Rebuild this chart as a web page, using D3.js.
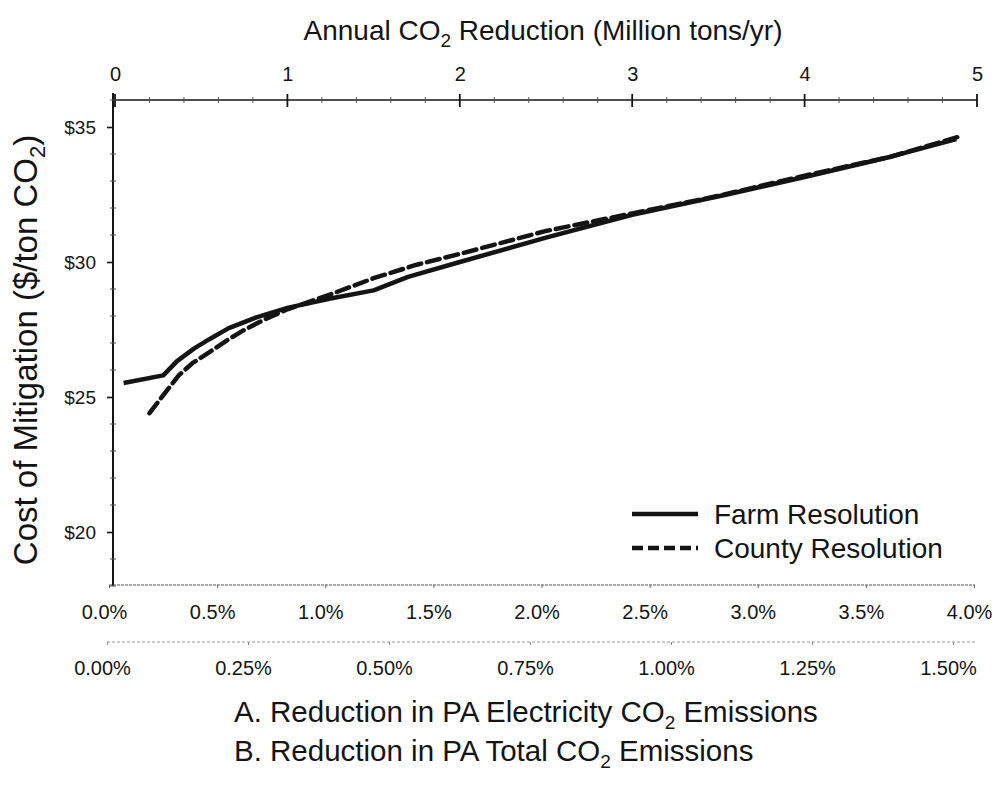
<!DOCTYPE html>
<html>
<head>
<meta charset="utf-8">
<script src="https://cdnjs.cloudflare.com/ajax/libs/d3/7.8.5/d3.min.js"></script>
<style>
  html, body { margin: 0; padding: 0; background: #fff; }
  svg { display: block; font-family: "Liberation Sans", Arial, Helvetica, sans-serif; }
</style>
</head>
<body>
<svg id="chart" width="997" height="785"></svg>
<script>
// Annual CO2 reduction (million tons/yr) and cost of mitigation ($/ton CO2)
const farmMt     = [0.05, 0.28, 0.36, 0.46, 0.55, 0.66, 0.82, 1.00, 1.25, 1.50, 1.70, 2.00, 2.50, 3.00, 3.55, 4.00, 4.50, 4.88];
const farmCost   = [25.52, 25.80, 26.33, 26.80, 27.15, 27.55, 27.95, 28.30, 28.65, 28.95, 29.45, 30.00, 30.90, 31.75, 32.50, 33.15, 33.90, 34.55];
const countyMt   = [0.20, 0.28, 0.37, 0.45, 0.55, 0.65, 0.74, 0.86, 1.00, 1.25, 1.50, 1.75, 2.00, 2.50, 3.00, 3.50, 4.00, 4.50, 4.90];
const countyCost = [24.40, 25.07, 25.80, 26.26, 26.67, 27.10, 27.45, 27.85, 28.25, 28.80, 29.40, 29.90, 30.30, 31.15, 31.80, 32.45, 33.20, 33.90, 34.65];

// Axis tick values
const mtTicks    = [0, 1, 2, 3, 4, 5];
const costTicks  = [20, 25, 30, 35];
const elecTicks  = [0, 0.5, 1.0, 1.5, 2.0, 2.5, 3.0, 3.5, 4.0];
const totalTicks = [0, 0.25, 0.5, 0.75, 1.0, 1.25, 1.5];

const seriesNames = ["Farm Resolution", "County Resolution"];

const svg = d3.select("#chart");
const ink = "#141414";

// Scales
const xMt    = d3.scaleLinear().domain([0, 5]).range([115, 977]);
const y      = d3.scaleLinear().domain([18, 36]).range([586, 100]);
const xElec  = d3.scaleLinear().domain([0, 4]).range([109, 974]);
const xTotal = d3.scaleLinear().domain([0, 1.5]).range([107, 953]);

// ---- Top axis: annual CO2 reduction ----
const gTop = svg.append("g").attr("transform", `translate(0,${y(36)})`);
gTop.call(d3.axisTop(xMt).tickValues(mtTicks).tickFormat(d3.format("d")).tickSize(0).tickPadding(19))
  .call(g => g.select(".domain").remove())
  .call(g => g.selectAll("text").attr("font-size", 20).attr("fill", ink).attr("font-family", null));
gTop.append("line").attr("x1", xMt(0)).attr("x2", xMt(5)).attr("stroke", ink).attr("stroke-width", 1.6);
gTop.selectAll(".major").data(mtTicks).join("line")
  .attr("x1", d => xMt(d)).attr("x2", d => xMt(d)).attr("y1", -6).attr("y2", 7)
  .attr("stroke", ink).attr("stroke-width", 1.8);
gTop.selectAll(".minor").data(d3.range(0, 5.001, 0.2).filter(v => Math.abs(v - Math.round(v)) > 1e-6)).join("line")
  .attr("x1", d => xMt(d)).attr("x2", d => xMt(d)).attr("y1", -3).attr("y2", 3)
  .attr("stroke", "#555").attr("stroke-width", 1);

// Top title
const topTitle = svg.append("text").attr("x", 543).attr("y", 40).attr("text-anchor", "middle")
  .attr("font-size", 28).attr("fill", ink);
topTitle.append("tspan").text("Annual CO");
topTitle.append("tspan").text("2").attr("font-size", 19).attr("dy", 7);
topTitle.append("tspan").text(" Reduction (Million tons/yr)").attr("dy", -7);

// ---- Left axis: cost ----
const gLeft = svg.append("g").attr("transform", "translate(113,0)");
gLeft.call(d3.axisLeft(y).tickValues(costTicks).tickFormat(d => "$" + d).tickSize(6).tickPadding(11))
  .call(g => g.select(".domain").remove())
  .call(g => g.selectAll(".tick line").attr("stroke", ink).attr("stroke-width", 1.6))
  .call(g => g.selectAll("text").attr("font-size", 19).attr("fill", ink).attr("font-family", null));
gLeft.append("line").attr("y1", 93).attr("y2", y(18)).attr("stroke", ink).attr("stroke-width", 2);
gLeft.selectAll(".minor").data(d3.range(18, 36.001, 1).filter(v => v % 5 !== 0)).join("line")
  .attr("x1", -3).attr("x2", 3).attr("y1", d => y(d)).attr("y2", d => y(d))
  .attr("stroke", "#555").attr("stroke-width", 1);

// Y title
const yTitle = svg.append("text").attr("transform", "translate(37,350) rotate(-90)")
  .attr("text-anchor", "middle").attr("font-size", 33).attr("fill", ink);
yTitle.append("tspan").text("Cost of Mitigation ($/ton CO");
yTitle.append("tspan").text("2").attr("font-size", 22).attr("dy", 8);
yTitle.append("tspan").text(")").attr("dy", -8);

// ---- Bottom axis A: % of PA electricity CO2 emissions ----
const gA = svg.append("g").attr("transform", `translate(0,${y(18) - 1})`);
gA.call(d3.axisBottom(xElec).tickValues(elecTicks).tickFormat(d => d.toFixed(1) + "%").tickSize(3).tickPadding(17))
  .call(g => g.select(".domain").remove())
  .call(g => g.selectAll(".tick line").attr("stroke", "#666"))
  .call(g => g.selectAll("text").attr("font-size", 20).attr("fill", ink).attr("font-family", null).attr("dx", -5));
gA.append("line").attr("x1", xElec(0)).attr("x2", 975).attr("stroke", "#555")
  .attr("stroke-width", 1.2).attr("stroke-dasharray", "3,1");

// ---- Bottom axis B: % of PA total CO2 emissions ----
const gB = svg.append("g").attr("transform", "translate(0,642)");
gB.call(d3.axisBottom(xTotal).tickValues(totalTicks).tickFormat(d => d.toFixed(2) + "%").tickSize(3).tickPadding(16))
  .call(g => g.select(".domain").remove())
  .call(g => g.selectAll(".tick line").attr("stroke", "#888"))
  .call(g => g.selectAll("text").attr("font-size", 20).attr("fill", ink).attr("font-family", null).attr("dx", -5));
gB.append("line").attr("x1", xTotal(0)).attr("x2", 975).attr("stroke", "#999")
  .attr("stroke-width", 1).attr("stroke-dasharray", "3,2");

// Bottom captions
const capA = svg.append("text").attr("x", 234).attr("y", 722).attr("font-size", 29.5).attr("fill", ink);
capA.append("tspan").text("A. Reduction in PA Electricity CO");
capA.append("tspan").text("2").attr("font-size", 19).attr("dy", 7);
capA.append("tspan").text(" Emissions").attr("dy", -7);
const capB = svg.append("text").attr("x", 234).attr("y", 761).attr("font-size", 29.5).attr("fill", ink);
capB.append("tspan").text("B. Reduction in PA Total CO");
capB.append("tspan").text("2").attr("font-size", 19).attr("dy", 7);
capB.append("tspan").text(" Emissions").attr("dy", -7);

// ---- Curves ----
const line = d3.line().x(d => xMt(d[0])).y(d => y(d[1]));
const farmPts = farmMt.map((m, i) => [m, farmCost[i]]);
const countyPts = countyMt.map((m, i) => [m, countyCost[i]]);

svg.append("path").datum(farmPts).attr("d", line)
  .attr("fill", "none").attr("stroke", ink).attr("stroke-width", 4.5)
  .attr("stroke-linejoin", "round");
svg.append("path").datum(countyPts).attr("d", line)
  .attr("fill", "none").attr("stroke", ink).attr("stroke-width", 4.5)
  .attr("stroke-dasharray", "13,6").attr("stroke-linecap", "round");

// ---- Legend ----
const legend = svg.append("g");
const legRows = [
  { name: seriesNames[0], dash: null, y: 514 },
  { name: seriesNames[1], dash: "11,5", y: 548 }
];
legRows.forEach(r => {
  legend.append("line").attr("x1", 632).attr("x2", 698).attr("y1", r.y).attr("y2", r.y)
    .attr("stroke", ink).attr("stroke-width", 4.5).attr("stroke-dasharray", r.dash);
  legend.append("text").attr("x", 714).attr("y", r.y + 10).attr("font-size", 28).attr("fill", ink).text(r.name);
});
</script>
</body>
</html>
